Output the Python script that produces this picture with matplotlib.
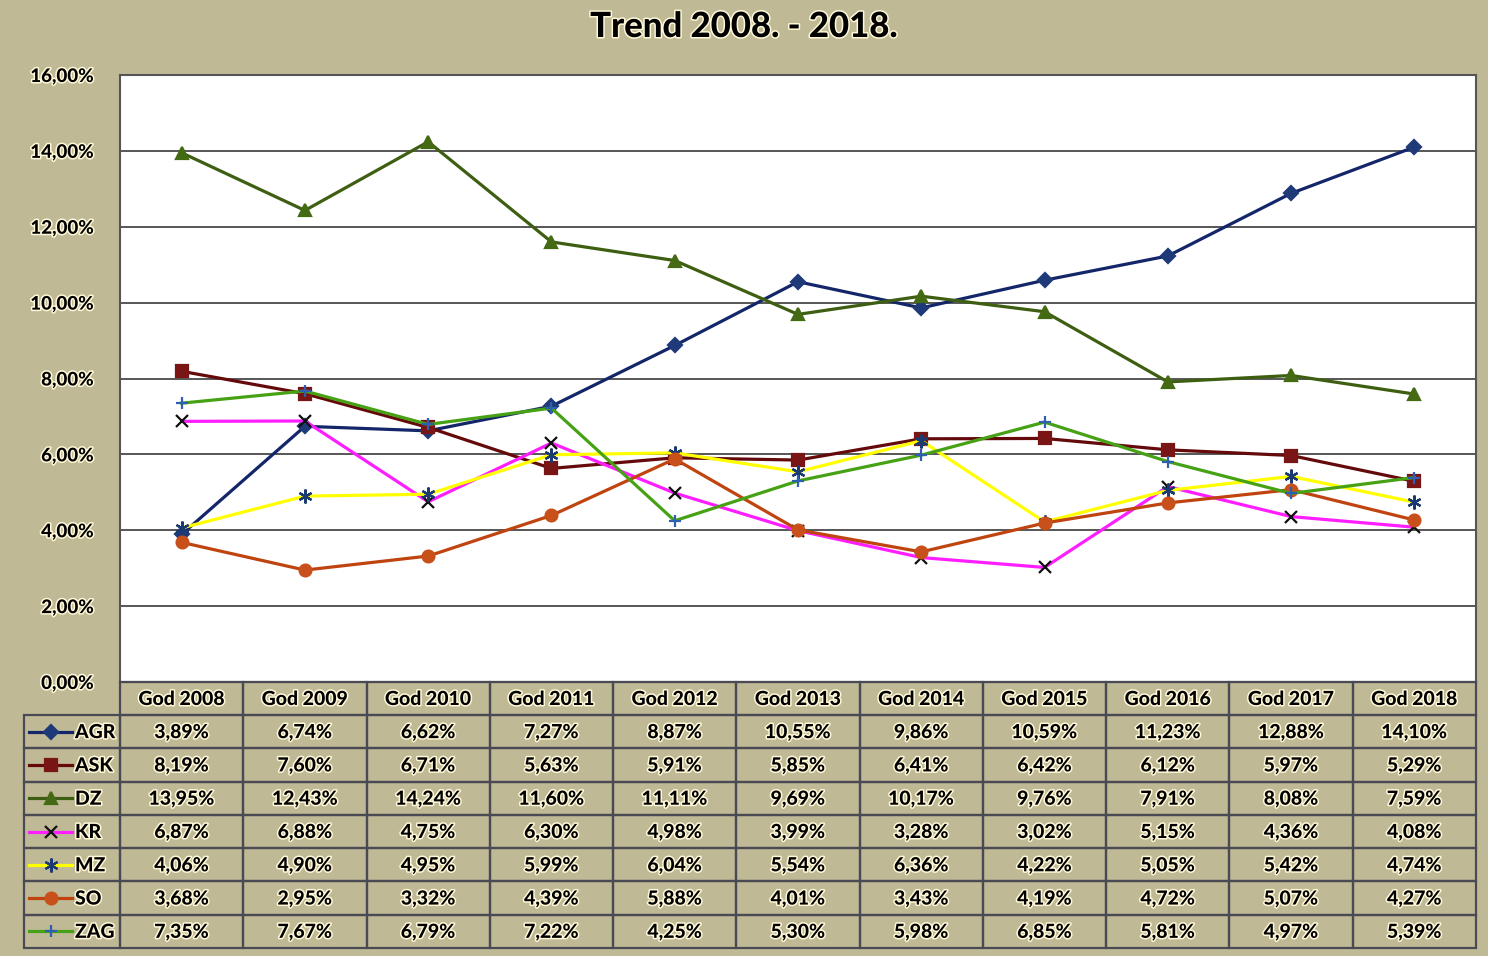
import numpy as np
import matplotlib
matplotlib.use("Agg")
import matplotlib.pyplot as plt
import matplotlib.patheffects as pe
from matplotlib.patches import Rectangle
from matplotlib.lines import Line2D

# Podaci
godine = ["God 2008", "God 2009", "God 2010", "God 2011", "God 2012", "God 2013",
          "God 2014", "God 2015", "God 2016", "God 2017", "God 2018"]
agr = [3.89, 6.74, 6.62, 7.27, 8.87, 10.55, 9.86, 10.59, 11.23, 12.88, 14.10]
ask = [8.19, 7.60, 6.71, 5.63, 5.91, 5.85, 6.41, 6.42, 6.12, 5.97, 5.29]
dz = [13.95, 12.43, 14.24, 11.60, 11.11, 9.69, 10.17, 9.76, 7.91, 8.08, 7.59]
kr = [6.87, 6.88, 4.75, 6.30, 4.98, 3.99, 3.28, 3.02, 5.15, 4.36, 4.08]
mz = [4.06, 4.90, 4.95, 5.99, 6.04, 5.54, 6.36, 4.22, 5.05, 5.42, 4.74]
so = [3.68, 2.95, 3.32, 4.39, 5.88, 4.01, 3.43, 4.19, 4.72, 5.07, 4.27]
zag = [7.35, 7.67, 6.79, 7.22, 4.25, 5.30, 5.98, 6.85, 5.81, 4.97, 5.39]
serije = ["AGR", "ASK", "DZ", "KR", "MZ", "SO", "ZAG"]
vrijednosti = [agr, ask, dz, kr, mz, so, zag]

# Stil za svaku seriju: boja linije, marker, boja markera, velicina
stil = {
    "AGR": ("#14266A", "D", "#1F3A78", 7),
    "ASK": ("#650A0A", "s", "#7A1515", 8.5),
    "DZ": ("#3E5E12", "^", "#456A14", 9),
    "KR": ("#FF1EFF", "x", "#101010", 8),
    "MZ": ("#FFFF00", (6, 2, 0), "#1A3A70", 10),
    "SO": ("#C04410", "o", "#C8501A", 8.5),
    "ZAG": ("#46A214", "+", "#2E5FB0", 9),
}

W, H = 1488, 956
bg = "#C0B996"
halo = [pe.withStroke(linewidth=2.2, foreground="#FFF8D8")]
font = "Lato"
tezina = "black"

fig = plt.figure(figsize=(W / 100, H / 100), dpi=100, facecolor=bg)

# Glavni graf
px_l, px_r, px_t, px_b = 120, 1476, 75, 682
ax = fig.add_axes([px_l / W, 1 - px_b / H, (px_r - px_l) / W, (px_b - px_t) / H])
ax.set_facecolor("white")
x = np.arange(len(godine))
for ime, vals in zip(serije, vrijednosti):
    c, m, mc, ms = stil[ime]
    ax.plot(x, np.array(vals) / 100, color=c, lw=2.3, marker=m, ms=ms,
            mfc=mc, mec=mc, mew=1.6, zorder=3)
ax.set_xlim(-0.5, len(godine) - 0.5)
ax.set_ylim(0, 0.16)
ax.set_yticks(np.arange(0, 0.161, 0.02))
ax.set_yticklabels([f"{v:.2f}%".replace(".", ",") for v in np.arange(0, 16.1, 2)])
ax.set_xticks([])
ax.tick_params(axis="y", length=0, pad=19)
for t in ax.get_yticklabels():
    t.set_fontfamily(font)
    t.set_fontweight(tezina)
    t.set_fontsize(13.5)
    t.set_path_effects(halo)
ax.grid(axis="y", color="#3A3A3A", lw=1.2, zorder=1)
for s in ax.spines.values():
    s.set_color("#555555")
    s.set_linewidth(1.5)

fig.text(0.5, 1 - 27 / H, "Trend 2008. - 2018.", ha="center", va="center",
         fontsize=25, fontweight=tezina, fontfamily=font, path_effects=halo)

# Tablica ispod grafa
tab = fig.add_axes([0, 0, 1, 1], facecolor="none")
tab.set_xlim(0, W)
tab.set_ylim(H, 0)
tab.axis("off")

col_w = (px_r - px_l) / len(godine)
hdr_t, hdr_b, tab_b = 682, 715, 948
row_h = (tab_b - hdr_b) / len(serije)
lc = "#4A4A55"

def cell(x0, y0, w, h):
    tab.add_patch(Rectangle((x0, y0), w, h, fill=False, ec=lc, lw=1.6))

def txt(xc, yc, s, ha="center"):
    tab.text(xc, yc, s, ha=ha, va="center", fontsize=14, fontweight=tezina,
             fontfamily=font, path_effects=halo)

for j, g in enumerate(godine):
    x0 = px_l + j * col_w
    cell(x0, hdr_t, col_w, hdr_b - hdr_t)
    txt(x0 + col_w / 2, (hdr_t + hdr_b) / 2 + 1, g)

for i, (ime, vals) in enumerate(zip(serije, vrijednosti)):
    y0 = hdr_b + i * row_h
    yc = y0 + row_h / 2
    cell(24, y0, px_l - 24, row_h)
    c, m, mc, ms = stil[ime]
    tab.add_line(Line2D([29, 72], [yc, yc], color=c, lw=2.3))
    tab.add_line(Line2D([50.5], [yc], marker=m, ms=ms, mfc=mc, mec=mc, mew=1.6))
    txt(75, yc + 1, ime, ha="left")
    for j, v in enumerate(vals):
        x0 = px_l + j * col_w
        cell(x0, y0, col_w, row_h)
        txt(x0 + col_w / 2, yc + 1, f"{v:.2f}%".replace(".", ","))

fig.savefig("out.png", dpi=100, facecolor=bg)
